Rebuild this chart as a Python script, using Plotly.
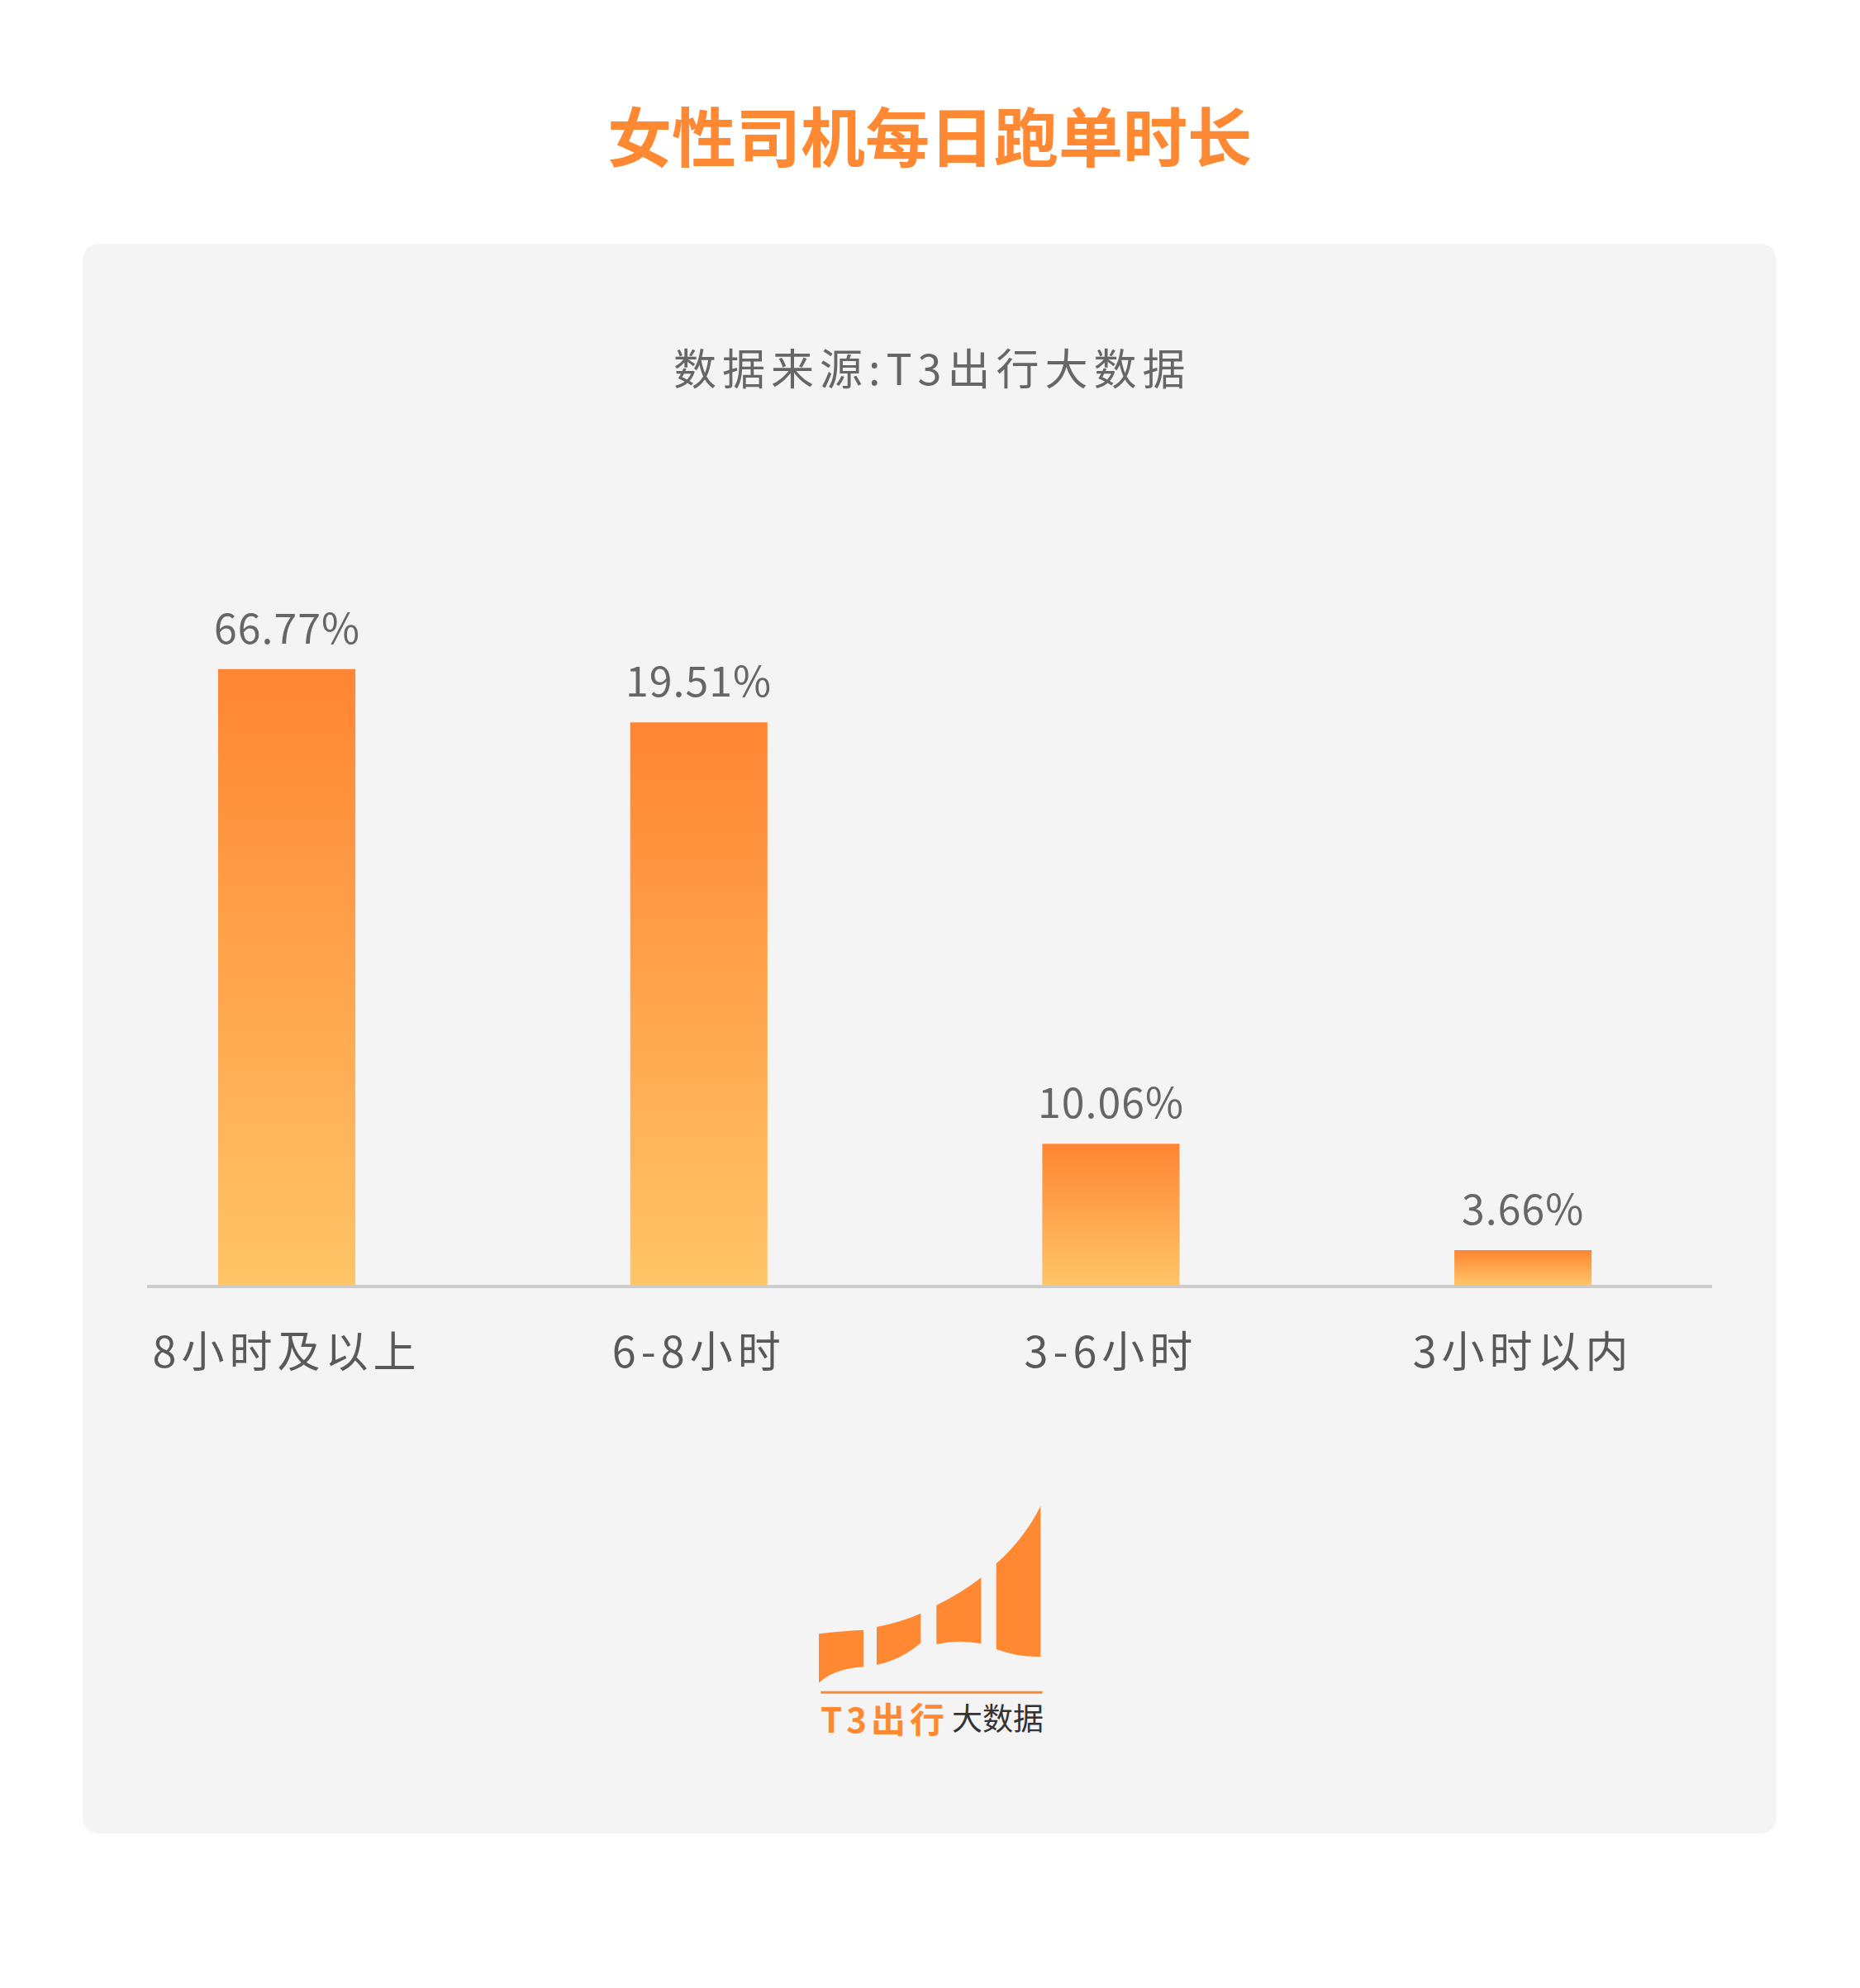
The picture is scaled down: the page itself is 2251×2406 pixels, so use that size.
import plotly.graph_objects as go

# ---------------- data ----------------
categories = ["8小时及以上", "6-8小时", "3-6小时", "3小时以内"]
values = [66.77, 19.51, 10.06, 3.66]            # shown percentages
# bar lengths as drawn in the original (the designer used a non-linear visual scale),
# read from the picture in the same units as the first bar
drawn_heights = [66.77, 61.0, 15.3, 3.76]
value_labels = [f"{v:.2f}%" for v in values]

title_text = "女性司机每日跑单时长"
subtitle_text = "数据来源:T3出行大数据"

# ---------------- geometry helpers (layout only, screenshot pixel coords) ----------------
W, H = 2251, 2406
OFF = 8                      # page body margin
L, R_EDGE, T, B = 178, 2072, 700, 1555
PW, PH = R_EDGE - L, B - T


def px(x):
    return (x - L) / PW


def py(y):
    return (B - y) / PH


def path_from(cmds):
    out = []
    for c in cmds:
        op = c[0]
        pts = c[1:]
        s = op
        for i in range(0, len(pts), 2):
            s += f" {px(pts[i]):.5f},{py(pts[i+1]):.5f}"
        out.append(s)
    return " ".join(out) + " Z"


def rounded_rect(x0, y0, x1, y1, r):
    return path_from([
        ("M", x0 + r, y0), ("L", x1 - r, y0), ("Q", x1, y0, x1, y0 + r),
        ("L", x1, y1 - r), ("Q", x1, y1, x1 - r, y1), ("L", x0 + r, y1),
        ("Q", x0, y1, x0, y1 - r), ("L", x0, y0 + r), ("Q", x0, y0, x0 + r, y0),
    ])


def z(xz, yz):
    return 900 + xz / 3, 1750 + yz / 3


def spaced(s, sp):
    return f'<span style="letter-spacing:{sp}px">{s}</span>'


ORANGE = "#FF8833"
BAR_TOP = "#FF8533"
BAR_BOTTOM = "#FFC567"
FONT = "Noto Sans CJK SC"

fig = go.Figure()

bar_w = 0.333
for i, h in enumerate(drawn_heights):
    xs = [i - bar_w / 2, i - bar_w / 2, i + bar_w / 2, i + bar_w / 2, i - bar_w / 2]
    ys = [0, h, h, 0, 0]
    fig.add_trace(go.Scatter(
        x=xs, y=ys, mode="lines", fill="toself",
        line=dict(width=0, color="rgba(0,0,0,0)"),
        fillgradient=dict(type="vertical", start=0, stop=h,
                          colorscale=[[0, BAR_BOTTOM], [1, BAR_TOP]]),
        hoverinfo="skip", showlegend=False,
    ))

annotations = []
for i, (h, lab) in enumerate(zip(drawn_heights, value_labels)):
    annotations.append(dict(
        x=i, y=h, xref="x", yref="y", text=spaced(lab, 1), showarrow=False,
        yanchor="bottom", yshift=15,
        font=dict(family=FONT, size=50, color="#666666"),
    ))

annotations += [
    dict(x=px(1125), y=py(162), xref="paper", yref="paper", text="<b>" + title_text + "</b>",
         showarrow=False, xanchor="center", yanchor="middle",
         font=dict(family=FONT, size=78, color=ORANGE)),
    dict(x=px(1128), y=py(443), xref="paper", yref="paper", text=spaced(subtitle_text, 7),
         showarrow=False, xanchor="center", yanchor="middle",
         font=dict(family=FONT, size=52, color="#666666")),
    dict(x=px(1070), y=py(2078), xref="paper", yref="paper", text="<b>" + spaced("T3出行", 5) + "</b>",
         showarrow=False, xanchor="center", yanchor="middle",
         font=dict(family=FONT, size=42, color=ORANGE)),
    dict(x=px(1207), y=py(2078), xref="paper", yref="paper", text="大数据",
         showarrow=False, xanchor="center", yanchor="middle",
         font=dict(family=FONT, size=37, color="#333333")),
]

shapes = [
    dict(type="path", xref="paper", yref="paper", layer="below",
         path=rounded_rect(100, 295, 2150, 2219, 22),
         fillcolor="#F4F4F4", line=dict(width=0)),
]

# logo bars
logo_paths = [
    [("M", *z(273, 682)), ("Q", *z(355, 672), *z(435, 668)), ("L", *z(435, 802)),
     ("Q", *z(330, 808), *z(273, 860))],
    [("M", *z(483, 657)), ("Q", *z(570, 640), *z(643, 608)), ("L", *z(643, 715)),
     ("Q", *z(575, 775), *z(483, 795))],
    [("M", *z(700, 578)), ("Q", *z(790, 535), *z(862, 478)), ("L", *z(862, 718)),
     ("Q", *z(780, 702), *z(700, 720))],
    [("M", *z(917, 427)), ("Q", *z(1020, 335), *z(1078, 218)), ("L", *z(1078, 765)),
     ("Q", *z(1000, 768), *z(917, 738))],
]
for p in logo_paths:
    shapes.append(dict(type="path", xref="paper", yref="paper", layer="above",
                       path=path_from(p), fillcolor=ORANGE, line=dict(width=0)))

x0, y0 = z(280, 895)
x1, _ = z(1085, 895)
shapes.append(dict(type="line", xref="paper", yref="paper", x0=px(x0), x1=px(x1),
                   y0=py(y0), y1=py(y0), line=dict(color=ORANGE, width=3)))

fig.update_layout(
    width=W, height=H, autosize=False,
    margin=dict(l=L - OFF, r=W - (R_EDGE - OFF), t=T - OFF, b=H - (B - OFF), pad=0),
    paper_bgcolor="#FFFFFF", plot_bgcolor="rgba(0,0,0,0)",
    showlegend=False,
    shapes=shapes, annotations=annotations,
    xaxis=dict(
        range=[-0.339, 3.459], tickmode="array", tickvals=list(range(len(categories))),
        ticktext=[spaced(c, 6) for c in categories], showgrid=False, zeroline=False,
        showline=True, linecolor="#CCCCCC", linewidth=4,
        ticks="outside", ticklen=34, tickcolor="rgba(0,0,0,0)",
        tickfont=dict(family=FONT, size=52, color="#595959"), fixedrange=True,
    ),
    yaxis=dict(range=[0, 76.6], visible=False, showgrid=False, zeroline=False, fixedrange=True),
)

fig.write_html("out.html", config={"displayModeBar": False})
